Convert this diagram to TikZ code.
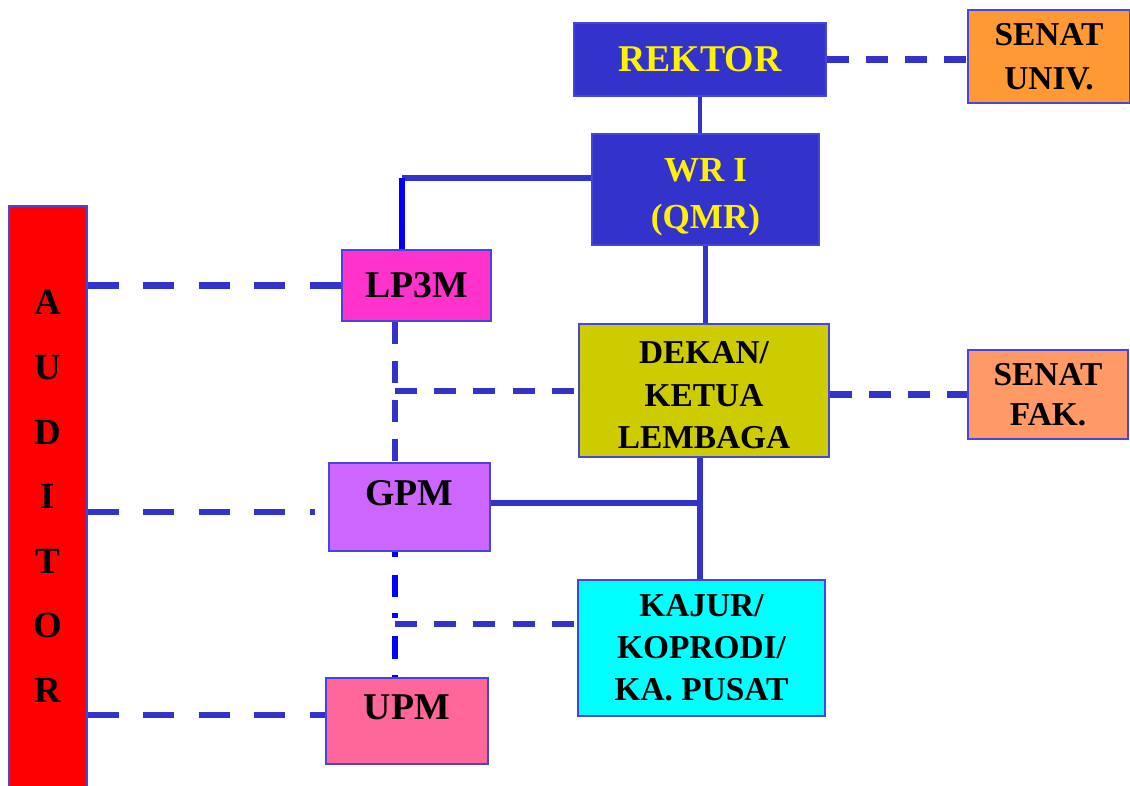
\documentclass[tikz,border=0pt]{standalone}
\usepackage{fontspec}
\setmainfont{Liberation Serif}

\definecolor{lineblue}{HTML}{3333CC}
\definecolor{boxedge}{HTML}{4646DC}
\definecolor{senatu}{HTML}{FF9933}
\definecolor{senatf}{HTML}{FF9966}
\definecolor{lpfill}{HTML}{FF33CC}
\definecolor{dekfill}{HTML}{CCCC00}
\definecolor{gpmfill}{HTML}{CC66FF}
\definecolor{kajfill}{HTML}{00FFFF}
\definecolor{upmfill}{HTML}{FF6699}

\tikzset{
  box/.style={draw=boxedge,line width=0.8pt,inner sep=0pt,align=center,
    font=\bfseries\fontsize{19}{24}\selectfont},
  bigbox/.style={box,font=\bfseries\fontsize{21.5}{24}\selectfont},
  solidline/.style={draw=lineblue,line width=3.4pt},
  dashline/.style={draw=lineblue,line width=3.6pt,
    dash pattern=on 12.5pt off 9.8pt},
  longdash/.style={draw=lineblue,line width=3.8pt,
    dash pattern=on 17.6pt off 14pt}
}

\begin{document}
\begin{tikzpicture}[x=0.02cm,y=-0.02cm]
            \useasboundingbox (0,0) rectangle (1130,785);
            \draw (700,59.5) node[bigbox,fill=lineblue,text=yellow,
             minimum width=5.04cm,minimum height=1.46cm] (REK) {REKTOR};
            \draw (1049,56.5) node[box,fill=senatu,
             minimum width=3.24cm,minimum height=1.86cm,
             font=\bfseries\fontsize{19}{25}\selectfont] (SEU) {SENAT\\UNIV.};
            \draw (705.5,189.5) node[box,fill=lineblue,text=yellow,
             minimum width=4.54cm,minimum height=2.22cm,text height=49pt,
             font=\bfseries\fontsize{20}{27}\selectfont] (WR) {WR I\\(QMR)};
            \draw (416.5,285.5) node[bigbox,fill=lpfill,
             minimum width=2.98cm,minimum height=1.42cm] (LP) {LP3M};
            \draw (704,390.5) node[box,fill=dekfill,text height=66pt,
             minimum width=5cm,minimum height=2.66cm] (DEK) {DEKAN/\\KETUA\\LEMBAGA};
            \draw (1048,394.5) node[box,fill=senatf,
             minimum width=3.2cm,minimum height=1.78cm,
             font=\bfseries\fontsize{19}{23}\selectfont] (SEF) {SENAT\\FAK.};
            \draw (409.5,507) node[bigbox,fill=gpmfill,text depth=16pt,
             minimum width=3.22cm,minimum height=1.76cm] (GPM) {GPM};
            \draw (701.5,648) node[box,fill=kajfill,
             minimum width=4.94cm,minimum height=2.72cm] (KAJ) {KAJUR/\\KOPRODI/\\KA. PUSAT};
            \draw (407,721) node[bigbox,fill=upmfill,text depth=16pt,
             minimum width=3.24cm,minimum height=1.72cm] (UPM) {UPM};
            \draw (48,496.5) node[box,fill=red,
             minimum width=1.56cm,minimum height=11.62cm,
             font=\bfseries\fontsize{21}{36.8}\selectfont] (AUD) {A\\U\\D\\I\\T\\O\\R};
            % junctions
            \coordinate (wrturn) at (402,178);
            \coordinate (lpdek) at (395,391);
            \coordinate (gpkaj) at (395,624);
            \coordinate (dekkaj) at (700,503);
            % lines of command
            \draw[solidline,line width=2.8pt] (REK.south) -- (WR.north -| REK.south);
            \draw[solidline] (WR.west |- wrturn) -- (wrturn);
            \draw[solidline,draw=blue] (wrturn) -- (LP.north -| wrturn);
            \draw[solidline] (WR.south) -- (DEK.north -| WR.south);
            \draw[solidline] (DEK.south -| dekkaj) -- (KAJ.north -| dekkaj);
            \draw[solidline] (GPM.east |- dekkaj) -- (dekkaj);
            % lines of coordination
            \draw[dashline] (REK.east) -- (SEU.west |- REK.east);
            \draw[dashline] (DEK.east |- SEF.west) -- (SEF.west);
            \draw[dashline] (LP.south -| lpdek) -- (GPM.north -| lpdek);
            \draw[dashline] (lpdek) -- (lpdek -| DEK.west);
            \draw[dashline,draw=blue,dash pattern=on 3pt off 10pt on 13pt off 9pt]
             (GPM.south -| gpkaj) -- (UPM.north -| gpkaj);
            \draw[dashline] (gpkaj) -- (gpkaj -| KAJ.west);
            \draw[longdash] (AUD.east |- LP.west) -- (LP.west);
            \draw[longdash] (AUD.east |- 0,512) -- (315,512);
            \draw[longdash] (AUD.east |- 0,715) -- (UPM.west |- 0,715);
        \end{tikzpicture}
\end{document}
